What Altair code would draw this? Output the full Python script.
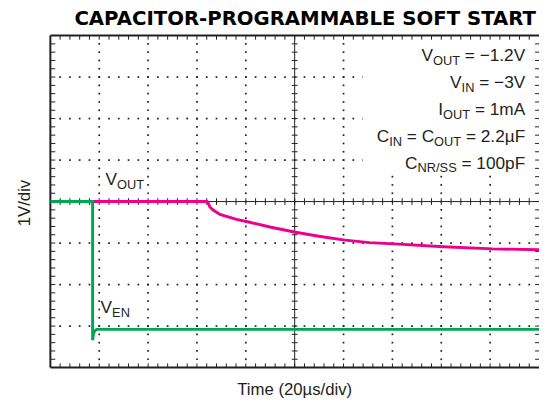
import altair as alt
import pandas as pd
import numpy as np

# ---------------- data ----------------
# time in µs (20 µs/div), voltage in V (1 V/div, centre line = 0 V)
VOUT_T = [17.3, 64.1, 64.7, 65.3, 66.5, 69.4, 76.2, 80.2, 90.3, 100.4, 110.5,
          120.6, 130.6, 140.7, 160.9, 181.0, 200.0]
VOUT_V = [0.0, 0.0, -0.05, -0.13, -0.20, -0.31, -0.43, -0.48, -0.62, -0.74, -0.84,
          -0.93, -0.99, -1.02, -1.09, -1.14, -1.16]
VEN_T = [0.0, 17.3, 17.3, 17.6, 18.1, 19.0, 200.0]
VEN_V = [0.0, 0.0, -3.34, -3.20, -3.12, -3.08, -3.08]

TITLE = "CAPACITOR-PROGRAMMABLE SOFT START"
X_LABEL = "Time (20µs/div)"
Y_LABEL = "1V/div"
# each condition line: pieces (text, is_subscript)
COND_LINES = [
    [("V", 0), ("OUT", 1), (" = −1.2V", 0)],
    [("V", 0), ("IN", 1), (" = −3V", 0)],
    [("I", 0), ("OUT", 1), (" = 1mA", 0)],
    [("C", 0), ("IN", 1), (" = C", 0), ("OUT", 1), (" = 2.2µF", 0)],
    [("C", 0), ("NR/SS", 1), (" = 100pF", 0)],
]
TRACE_LABELS = [
    [("V", 0), ("OUT", 1)],
    [("V", 0), ("EN", 1)],
]

X_MIN, X_MAX, X_STEP = 0, 200, 20      # µs
Y_MIN, Y_MAX, Y_STEP = -4, 4, 1        # V
MINOR = 5

# ---------------- layout / style ----------------
W_PX, H_PX = 496, 337
PXT = W_PX / (X_MAX - X_MIN)           # px per µs
PXV = H_PX / (Y_MAX - Y_MIN)           # px per V
INK = "#231f20"
MAG = "#ec008c"
GRN = "#00a651"
FONT = "Liberation Sans"
FS, FS_SUB = 17.5, 13
SUB_DROP = 4 / PXV

# Arial / Liberation Sans advance widths (1/1000 em)
AW = {"V": 667, "O": 778, "U": 722, "T": 611, "I": 278, "N": 722, "C": 722,
      "R": 722, "/": 278, "S": 667, " ": 278, "=": 584, "−": 584, "1": 556,
      ".": 278, "2": 556, "3": 556, "m": 833, "A": 667, "µ": 576, "F": 611,
      "0": 556, "p": 556, "E": 667}


def tw(s, fs):
    return sum(AW.get(c, 556) for c in s) * fs / 1000.0


xs = alt.Scale(domain=[X_MIN, X_MAX], nice=False, zero=False)
ys = alt.Scale(domain=[Y_MIN, Y_MAX], nice=False, zero=False)
X = lambda: alt.X("x:Q", scale=xs, axis=None)
Y = lambda: alt.Y("y:Q", scale=ys, axis=None)

major_x = np.arange(X_MIN, X_MAX + 0.001, X_STEP)
major_y = np.arange(Y_MIN, Y_MAX + 0.001, Y_STEP)
minor_x = np.round(np.arange(X_MIN, X_MAX + 0.001, X_STEP / MINOR), 3)
minor_y = np.round(np.arange(Y_MIN, Y_MAX + 0.001, Y_STEP / MINOR), 3)
cx = (X_MIN + X_MAX) / 2
cy = (Y_MIN + Y_MAX) / 2

PLOT_LEFT_PX, PLOT_TOP_PX = 51, 33


def px_to_t(px):
    return X_MIN + (px - PLOT_LEFT_PX) / PXT


def py_to_v(py):
    return Y_MAX - (py - PLOT_TOP_PX) / PXV


# ---------------- frame rules ----------------
rules = []
rules.append((X_MIN, X_MIN, Y_MIN, Y_MAX, 2))
rules.append((X_MIN, X_MAX, Y_MAX, Y_MAX, 2))
rules.append((X_MIN, X_MAX, Y_MIN, Y_MIN, 2))
rules.append((cx, cx, Y_MIN, Y_MAX, 1))
rules.append((X_MIN, X_MAX, cy, cy, 1))
tk_v = 4.2 / PXV
tk_h = 5 / PXT
for x in minor_x:
    if X_MIN < x < X_MAX:
        rules.append((x, x, Y_MAX, Y_MAX - tk_v, 1))
        rules.append((x, x, Y_MIN, Y_MIN + tk_v, 1))
        rules.append((x, x, cy - 3.4 / PXV, cy + 3.4 / PXV, 1))
for y in minor_y:
    if Y_MIN < y < Y_MAX:
        rules.append((X_MIN, X_MIN + tk_h, y, y, 1))
        rules.append((X_MAX, X_MAX - 4 / PXT, y, y, 1))
        rules.append((cx - 3 / PXT, cx + 3 / PXT, y, y, 1))
rules_df = pd.DataFrame(rules, columns=["x", "x2", "y", "y2", "w"])

rule_layer = alt.Chart(rules_df).mark_rule(color=INK).encode(
    x=X(), x2="x2:Q", y=Y(), y2="y2:Q",
    strokeWidth=alt.StrokeWidth("w:Q", scale=None),
)

# ---------------- dotted grid ----------------
dots = []
for xm in major_x:
    if X_MIN < xm < X_MAX and xm != cx:
        for y in minor_y:
            if Y_MIN < y < Y_MAX:
                dots.append((xm, y))
for ym in major_y:
    if Y_MIN < ym < Y_MAX and ym != cy:
        for x in minor_x:
            if X_MIN < x < X_MAX:
                dots.append((x, ym))
dots_df = pd.DataFrame(dots, columns=["x", "y"])
dot_layer = alt.Chart(dots_df).mark_square(size=3, color=INK, opacity=1).encode(x=X(), y=Y())

# white box behind the test-condition block
box_df = pd.DataFrame({"x": [px_to_t(368)], "x2": [px_to_t(540)],
                       "y": [py_to_v(38)], "y2": [py_to_v(173)]})
box_layer = alt.Chart(box_df).mark_rect(color="white", opacity=1).encode(
    x=X(), x2="x2:Q", y=Y(), y2="y2:Q")

# ---------------- traces ----------------
vout_df = pd.DataFrame({"x": VOUT_T, "y": VOUT_V, "i": range(len(VOUT_T))})
ven_df = pd.DataFrame({"x": VEN_T, "y": VEN_V, "i": range(len(VEN_T))})
vout_layer = alt.Chart(vout_df).mark_line(color=MAG, strokeWidth=3).encode(
    x=X(), y=Y(), order="i:Q")
ven_layer = alt.Chart(ven_df).mark_line(color=GRN, strokeWidth=3).encode(
    x=X(), y=Y(), order="i:Q")

# ---------------- texts ----------------
COND_RIGHT_PX = 533
COND_BASE_PX = [58.5, 86, 113.5, 141, 168]

right_txt = []
for line, base in zip(COND_LINES, COND_BASE_PX):
    r = COND_RIGHT_PX
    yv = py_to_v(base)
    for text, sub in reversed(line):
        fs = FS_SUB if sub else FS
        right_txt.append((px_to_t(r), yv - (SUB_DROP if sub else 0), text.strip(), fs))
        r -= tw(text, fs)
right_df = pd.DataFrame(right_txt, columns=["x", "y", "text", "fs"])

left_txt = []
for line, (lx, base) in zip(TRACE_LABELS, [(107, 185), (102, 315)]):
    l = lx
    yv = py_to_v(base)
    for text, sub in line:
        fs = FS_SUB if sub else FS
        left_txt.append((px_to_t(l), yv - (SUB_DROP if sub else 0), text, fs))
        l += tw(text, fs)
left_df = pd.DataFrame(left_txt, columns=["x", "y", "text", "fs"])

right_layer = alt.Chart(right_df).mark_text(
    align="right", baseline="alphabetic", font=FONT, color=INK
).encode(x=X(), y=Y(), text="text:N", size=alt.Size("fs:Q", scale=None))
left_layer = alt.Chart(left_df).mark_text(
    align="left", baseline="alphabetic", font=FONT, color=INK
).encode(x=X(), y=Y(), text="text:N", size=alt.Size("fs:Q", scale=None))

title_df = pd.DataFrame({"x": [px_to_t(544)], "y": [py_to_v(22.5)], "text": [TITLE]})
title_layer = alt.Chart(title_df).mark_text(
    align="right", baseline="alphabetic", font="DejaVu Sans", fontWeight="bold",
    fontSize=20, color="#000000"
).encode(x=X(), y=Y(), text="text:N")

xl_df = pd.DataFrame({"x": [cx], "y": [py_to_v(398)], "text": [X_LABEL]})
xl_layer = alt.Chart(xl_df).mark_text(
    align="center", baseline="alphabetic", font=FONT, fontSize=17, color=INK
).encode(x=X(), y=Y(), text="text:N")

yl_df = pd.DataFrame({"x": [px_to_t(25)], "y": [py_to_v(203)], "text": [Y_LABEL]})
yl_layer = alt.Chart(yl_df).mark_text(
    align="center", baseline="middle", angle=270, font=FONT, fontSize=17, color=INK
).encode(x=X(), y=Y(), text="text:N")

chart = alt.layer(
    dot_layer, rule_layer, box_layer, vout_layer, ven_layer,
    right_layer, left_layer, title_layer, xl_layer, yl_layer,
).properties(
    width=W_PX, height=H_PX,
    autosize=alt.AutoSizeParams(type="none"),
    padding={"left": 43, "top": 25, "right": 0, "bottom": 33},
    background="white",
).configure_view(stroke=None)

chart.save("out.html", embed_options={"renderer": "svg", "actions": False})
